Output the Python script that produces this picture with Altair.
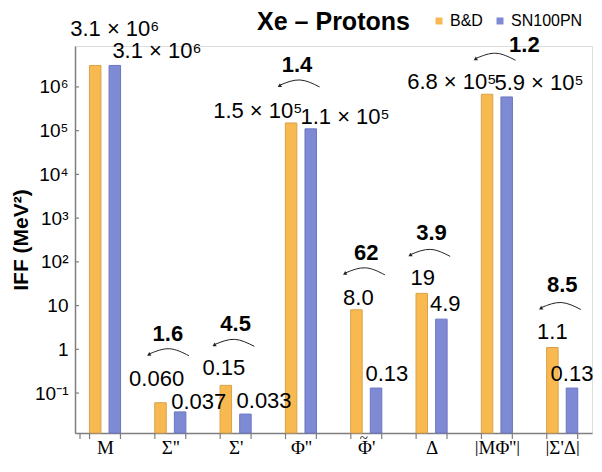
import altair as alt
import pandas as pd
import numpy as np

# ---------------- data ----------------
categories = ["M", "Σ''", "Σ'", "Φ''", "Φ̃'", "Δ", "|MΦ''|", "|Σ'Δ|"]
series = ["B&D", "SN100PN"]
bd_values = [3.1e6, 0.060, 0.15, 1.5e5, 8.0, 19, 6.8e5, 1.1]
sn_values = [3.1e6, 0.037, 0.033, 1.1e5, 0.13, 4.9, 5.9e5, 0.13]
bd_text = ["3.1 × 10⁶", "0.060", "0.15", "1.5 × 10⁵", "8.0", "19", "6.8 × 10⁵", "1.1"]
sn_text = ["3.1 × 10⁶", "0.037", "0.033", "1.1 × 10⁵", "0.13", "4.9", "5.9 × 10⁵", "0.13"]
ratio_text = ["", "1.6", "4.5", "1.4", "62", "3.9", "1.2", "8.5"]
y_ticks = [0.1, 1, 10, 100, 1e3, 1e4, 1e5, 1e6]
y_tick_labels = ["10⁻¹", "1", "10", "10²", "10³", "10⁴", "10⁵", "10⁶"]
title_text = "Xe – Protons"
y_title = "IFF (MeV²)"

# ---------------- layout / style ----------------
W, H = 517, 387
STEP = 66.6          # px per group
FIRST = 25.5         # px from axis to first group centre
X0 = -FIRST / STEP
X1 = X0 + W / STEP
Y0, Y1 = 0.0122, 8.63e6
DEC = H / np.log10(Y1 / Y0)   # px per decade
BAR_OFF = 10 / STEP
BAR_W = 11.5
EDGE = 15.75 / STEP
colors = ["#F8BA50", "#7F8AD4"]
strokes = ["#D9A24A", "#6A76C4"]
grey = "#7f7f7f"
SANS = "Liberation Sans"
SERIF = "Liberation Serif"
TILDE = "\u0303"

# label nudges in pixels (relative to bar top centre)
bd_label_dx = [20, -4, -2, -34, 2, 1, -36, 0]
bd_label_dy = [-36, -24, -17, -12, -12, -15, -12, -16]
sn_label_dx = [43, 19, 19, 35, 11, 4, 33, 0]
sn_label_dy = [-14, -10, -13, -12, -14, -15, -14, -14]
ratio_dx = [0, -2.5, 0, -4, 0, 0, 28, 0]
ratio_dy = [0, -69, -61, -58, -57, -60, -49, -63]
arc_dy = [0, -47, -39, -36, -35, -37, -34, -38]
arc_shape = [(19, 0), (-1, -7), (-21, -2)]


def ynudge(v, dy):
    return v * 10 ** (-dy / DEC)


rows = []
for g, cat in enumerate(categories):
    for s, vals, txt, ldx, ldy, sgn in [
        (series[0], bd_values, bd_text, bd_label_dx, bd_label_dy, -1),
        (series[1], sn_values, sn_text, sn_label_dx, sn_label_dy, 1),
    ]:
        bx = g + sgn * BAR_OFF
        rows.append(dict(g=g, cat=cat, series=s, value=vals[g], text=txt[g],
                         bx=bx, lx=bx + ldx[g] / STEP, ly=ynudge(vals[g], ldy[g])))
bars = pd.DataFrame(rows)

rrows, arows, hrows = [], [], []
for g in range(1, len(categories)):
    m = max(bd_values[g], sn_values[g])
    rrows.append(dict(g=g, t=ratio_text[g], rx=g + ratio_dx[g] / STEP, ry=ynudge(m, ratio_dy[g])))
    for k, (px, py) in enumerate(arc_shape):
        arows.append(dict(g=g, k=k, ax=g + px / STEP, ay=ynudge(m, arc_dy[g] + py)))
    hrows.append(dict(g=g, hx=g - 22 / STEP, hy=ynudge(m, arc_dy[g] - 1)))
ratios = pd.DataFrame(rrows)
arcs = pd.DataFrame(arows)
heads = pd.DataFrame(hrows)

xticks = pd.DataFrame({"tx": [X0] + [g + s * EDGE for g in range(len(categories)) for s in (-1, 1)]})
yticks = pd.DataFrame({"ty": y_ticks})
titles = pd.DataFrame({"t": [title_text]})
# the combining tilde is drawn as its own small text above the letter
tildes = pd.DataFrame({"tx": [g - 2.5 / STEP for g, c in enumerate(categories) if TILDE in c],
                       "t": ["~" for c in categories if TILDE in c]})

# ---------------- scales / axes ----------------
xscale = alt.Scale(domain=[X0, X1], nice=False, zero=False)
yscale = alt.Scale(type="log", domain=[Y0, Y1], nice=False)
shown = [c.replace(TILDE, "") for c in categories]
x_label_expr = "[" + ",".join("'" + c.replace("'", "\\'") + "'" for c in shown) + "][datum.value]"
y_label_expr = "[" + ",".join("'" + c + "'" for c in y_tick_labels) + "][round(log(datum.value)/LN10)+1]"
xaxis = alt.Axis(values=list(range(len(categories))), labelExpr=x_label_expr, title=None,
                 tickSize=0, grid=False, labelFont=SERIF, labelFontSize=19, labelColor="black",
                 labelPadding=5, labelOverlap=False, labelFlush=False,
                 domainColor=grey, domainWidth=1.5)
yaxis = alt.Axis(values=y_ticks, labelExpr=y_label_expr, title=y_title, tickSize=0, grid=False,
                 labelFont=SANS, labelFontSize=19, labelColor="black", labelPadding=7,
                 labelOverlap=False, titleFont=SANS, titleFontSize=21, titleFontWeight="bold",
                 titleColor="black", titlePadding=3, domainColor=grey, domainWidth=1.5)


def X(f):
    return alt.X(f, type="quantitative", scale=xscale, axis=xaxis)


def Y(f):
    return alt.Y(f, type="quantitative", scale=yscale, axis=yaxis)


bar_layer = alt.Chart(bars).mark_bar(size=BAR_W, strokeWidth=1).encode(
    x=X("bx"),
    y=Y("value"),
    y2=alt.datum(Y0),
    color=alt.Color("series:N", scale=alt.Scale(domain=series, range=colors),
                    legend=alt.Legend(orient="none", legendX=356, legendY=-33, direction="horizontal",
                                      title=None, symbolType="square", symbolSize=49,
                                      symbolStrokeWidth=0, labelFont=SANS, labelFontSize=16,
                                      labelColor="black", columnPadding=9, labelOffset=3,
                                      padding=0)),
    stroke=alt.Stroke("series:N", scale=alt.Scale(domain=series, range=strokes), legend=None),
)

value_labels = alt.Chart(bars).mark_text(font=SANS, fontSize=22, baseline="middle",
                                         align="center", color="black").encode(
    x=X("lx"), y=Y("ly"), text="text:N")

ratio_labels = alt.Chart(ratios).mark_text(font=SANS, fontSize=22, fontWeight="bold",
                                           baseline="middle", align="center", color="black").encode(
    x=X("rx"), y=Y("ry"), text="t:N")

arc_layer = alt.Chart(arcs).mark_line(interpolate="natural", color="#222222", strokeWidth=1).encode(
    x=X("ax"), y=Y("ay"), detail="g:N", order="k:Q")

head_layer = alt.Chart(heads).mark_point(shape="triangle-left", size=18, filled=True,
                                         color="#222222", angle=330, opacity=1).encode(
    x=X("hx"), y=Y("hy"))

xtick_layer = alt.Chart(xticks).mark_rule(color=grey, strokeWidth=1.2).encode(
    x=X("tx"), y=alt.value(H), y2=alt.value(H + 6))

ytick_layer = alt.Chart(yticks).mark_rule(color=grey, strokeWidth=1.2).encode(
    y=Y("ty"), x=alt.value(0), x2=alt.value(4))

tilde_layer = alt.Chart(tildes).mark_text(font=SERIF, fontSize=15, baseline="middle",
                                          align="center", color="black").encode(
    x=X("tx"), y=alt.value(H + 5), text="t:N")

title_layer = alt.Chart(titles).mark_text(font=SANS, fontSize=25, fontWeight="bold",
                                          align="center", baseline="alphabetic", color="black").encode(
    x=alt.value(W / 2), y=alt.value(-16), text="t:N")

chart = alt.layer(
    bar_layer, xtick_layer, ytick_layer, arc_layer, head_layer,
    value_labels, ratio_labels, tilde_layer, title_layer,
).properties(
    width=W, height=H,
    autosize=alt.AutoSizeParams(type="none"),
    padding={"left": 67, "top": 38, "right": 2, "bottom": 23},
).configure_view(stroke=None).configure(background="white")

chart.save("out.html", embed_options={"renderer": "svg", "actions": False})
